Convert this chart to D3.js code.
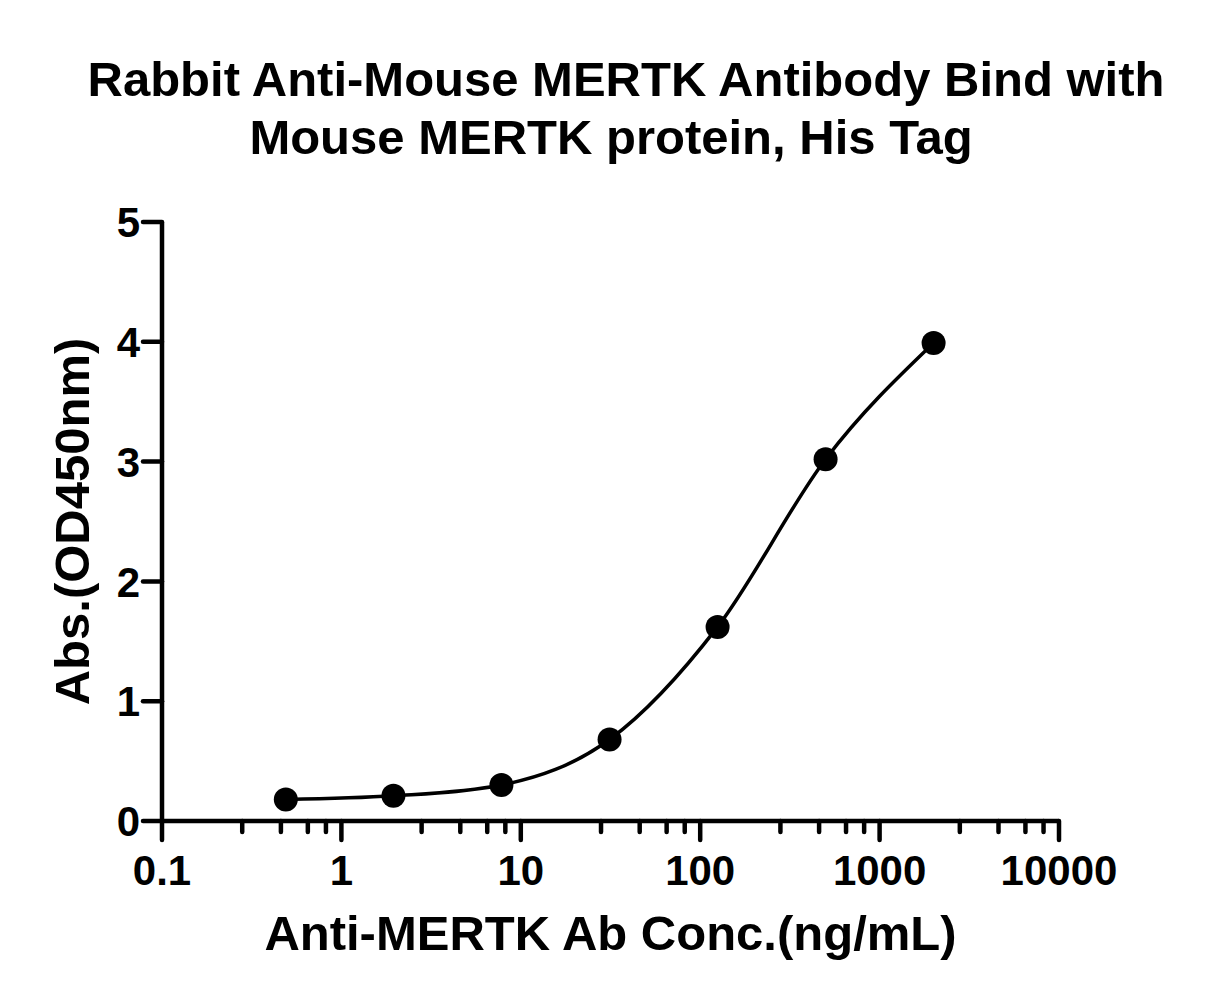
<!DOCTYPE html>
<html lang="en">
<head>
    <meta charset="UTF-8">
    <script src="https://d3js.org/d3.v7.min.js"></script>
    <title>Rabbit Anti-Mouse MERTK Antibody Bind with Mouse MERTK protein, His Tag</title>
    <style>
        body {
            margin: 0;
            background-color: #ffffff;
        }
        svg text {
            font-family: "Liberation Sans", Arial, sans-serif;
            font-weight: bold;
            fill: #000;
        }
    </style>
</head>
<body>
    <div id="chart"></div>

    <script>
        const width = 1206;
        const height = 1005;

        // data
        const concentrations = [0.49, 1.95, 7.8, 31.25, 125, 500, 2000];
        const absorbance = [0.18, 0.21, 0.30, 0.68, 1.62, 3.02, 3.99];

        const titleLines = ["Rabbit Anti-Mouse MERTK Antibody Bind with", "Mouse MERTK protein, His Tag"];
        const xTitle = "Anti-MERTK Ab Conc.(ng/mL)";
        const yTitle = "Abs.(OD450nm)";

        const xMajorTicks = [0.1, 1, 10, 100, 1000, 10000];
        const xTickLabels = ["0.1", "1", "10", "100", "1000", "10000"];
        const minorSteps = [2.8, 4.6, 6.5, 8.2];
        const yTicks = [0, 1, 2, 3, 4, 5];

        const points = concentrations.map((c, i) => ({ x: c, y: absorbance[i] }));

        const svg = d3.select("#chart").append("svg")
            .attr("width", width)
            .attr("height", height);

        const x = d3.scaleLog().domain([0.1, 10000]).range([162, 1059]);
        const y = d3.scaleLinear().domain([0, 5]).range([821, 222]);

        // title
        svg.append("text")
            .attr("x", 626)
            .attr("y", 96)
            .attr("text-anchor", "middle")
            .style("font-size", "49px")
            .text(titleLines[0]);
        svg.append("text")
            .attr("x", 611)
            .attr("y", 154)
            .attr("text-anchor", "middle")
            .style("font-size", "49px")
            .text(titleLines[1]);

        // x axis
        const minorTicks = [];
        xMajorTicks.slice(0, -1).forEach(m => minorSteps.forEach(s => minorTicks.push(m * s)));

        const xAxis = svg.append("g").attr("transform", `translate(0,${y(0)})`);
        xAxis.append("line")
            .attr("x1", x(0.1)).attr("x2", x(10000))
            .attr("stroke", "#000").attr("stroke-width", 4.5);
        xAxis.selectAll(".major")
            .data(xMajorTicks)
            .join("line")
            .attr("class", "major")
            .attr("x1", d => x(d)).attr("x2", d => x(d))
            .attr("y1", 0).attr("y2", 19)
            .attr("stroke", "#000").attr("stroke-width", 4.5)
            .attr("stroke-linecap", "round");
        xAxis.selectAll(".minor")
            .data(minorTicks)
            .join("line")
            .attr("class", "minor")
            .attr("x1", d => x(d)).attr("x2", d => x(d))
            .attr("y1", 0).attr("y2", 11)
            .attr("stroke", "#000").attr("stroke-width", 4.5)
            .attr("stroke-linecap", "round");
        xAxis.selectAll(".xlabel")
            .data(xMajorTicks)
            .join("text")
            .attr("class", "xlabel")
            .attr("x", d => x(d))
            .attr("y", 64)
            .attr("text-anchor", "middle")
            .style("font-size", "42px")
            .text((d, i) => xTickLabels[i]);

        // y axis
        const yAxis = svg.append("g").attr("transform", `translate(${x(0.1)},0)`);
        yAxis.append("line")
            .attr("y1", y(0)).attr("y2", y(5))
            .attr("stroke", "#000").attr("stroke-width", 4.5);
        yAxis.selectAll(".ytick")
            .data(yTicks)
            .join("line")
            .attr("class", "ytick")
            .attr("x1", -19).attr("x2", 0)
            .attr("y1", d => y(d)).attr("y2", d => y(d))
            .attr("stroke", "#000").attr("stroke-width", 4.5)
            .attr("stroke-linecap", "round");
        yAxis.selectAll(".ylabel")
            .data(yTicks)
            .join("text")
            .attr("class", "ylabel")
            .attr("x", -22)
            .attr("y", d => y(d))
            .attr("dy", "0.36em")
            .attr("text-anchor", "end")
            .style("font-size", "42px")
            .text(d => d);

        // axis titles
        svg.append("text")
            .attr("x", (x(0.1) + x(10000)) / 2)
            .attr("y", 950)
            .attr("text-anchor", "middle")
            .style("font-size", "49px")
            .text(xTitle);
        svg.append("text")
            .attr("transform", `translate(89,${(y(0) + y(5)) / 2}) rotate(-90)`)
            .attr("text-anchor", "middle")
            .style("font-size", "49px")
            .text(yTitle);

        // fitted curve
        const line = d3.line()
            .x(d => x(d.x))
            .y(d => y(d.y))
            .curve(d3.curveMonotoneX);

        svg.append("path")
            .datum(points)
            .attr("d", line)
            .attr("fill", "none")
            .attr("stroke", "#000")
            .attr("stroke-width", 3.5);

        svg.selectAll(".dot")
            .data(points)
            .join("circle")
            .attr("class", "dot")
            .attr("cx", d => x(d.x))
            .attr("cy", d => y(d.y))
            .attr("r", 12)
            .attr("fill", "#000");
    </script>
</body>
</html>
